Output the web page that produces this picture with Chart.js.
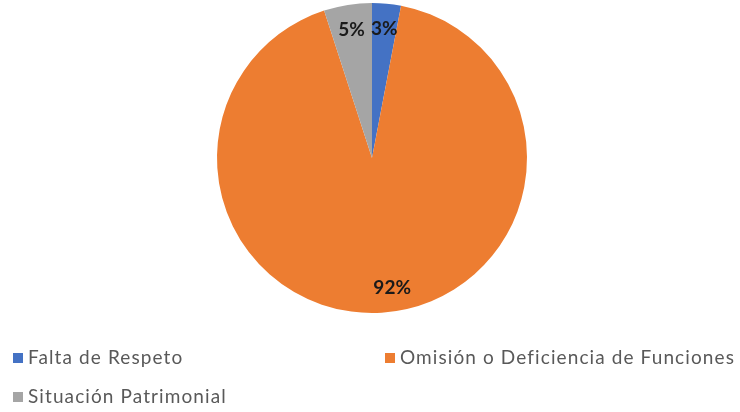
<!DOCTYPE html>
<html>
<head>
<meta charset="utf-8">
<script src="https://cdn.jsdelivr.net/npm/chart.js@4"></script>
<style>
  html, body { margin: 0; padding: 0; background: #ffffff; }
  #wrap { position: relative; width: 740px; height: 412px; }
  #legend { position: absolute; left: 0; top: 0; width: 740px; height: 412px; pointer-events: none;
            font-family: Lato, "Open Sans", sans-serif; font-size: 19px; color: #595959; letter-spacing: 1.1px; }
  .item { position: absolute; white-space: nowrap; line-height: 20px; }
  .box { display: inline-block; width: 10px; height: 10px; margin-right: 5px; vertical-align: 1px; }
</style>
</head>
<body>
<div id="wrap">
  <canvas id="chart" width="740" height="412"></canvas>
  <div id="legend"></div>
</div>
<script>
var labels = ["Falta de Respeto", "Omisión o Deficiencia de Funciones", "Situación Patrimonial"];
var values = [3, 92, 5];
var colors = ["#4472C4", "#ED7D31", "#A5A5A5"];

// etiquetas de porcentaje dentro de cada porción
var pctLabels = {
    id: "pctLabels",
    afterDatasetsDraw: function (chart) {
        var ctx = chart.ctx;
        var meta = chart.getDatasetMeta(0);
        var total = values.reduce(function (a, b) { return a + b; }, 0);
        ctx.save();
        ctx.font = "bold 19px Lato, 'Open Sans', sans-serif";
        ctx.fillStyle = "#1a1a1a";
        ctx.textAlign = "center";
        ctx.textBaseline = "middle";
        meta.data.forEach(function (arc, i) {
            var mid = (arc.startAngle + arc.endAngle) / 2;
            var r = arc.outerRadius * 0.84;
            var x = arc.x + Math.cos(mid) * r;
            var y = arc.y + Math.sin(mid) * r;
            if (i === 1) { x += 12; }
            ctx.fillText(Math.round(values[i] / total * 100) + "%", x, y);
        });
        ctx.restore();
    }
};

new Chart(document.getElementById("chart"), {
    type: "pie",
    data: {
        labels: labels,
        datasets: [{
            data: values,
            backgroundColor: colors,
            borderWidth: 0
        }]
    },
    options: {
        responsive: false,
        animation: false,
        layout: { padding: { left: 4, right: 0, top: 3, bottom: 99 } },
        plugins: {
            legend: { display: false },
            tooltip: { enabled: false }
        }
    },
    plugins: [pctLabels]
});

// leyenda en dos columnas como en el original
var legend = document.getElementById("legend");
var slots = [[13, 347], [385, 347], [13, 386]];
labels.forEach(function (name, i) {
    var d = document.createElement("div");
    d.className = "item";
    d.style.left = slots[i][0] + "px";
    d.style.top = slots[i][1] + "px";
    d.innerHTML = '<span class="box" style="background:' + colors[i] + '"></span>' + name;
    legend.appendChild(d);
});
</script>
</body>
</html>
